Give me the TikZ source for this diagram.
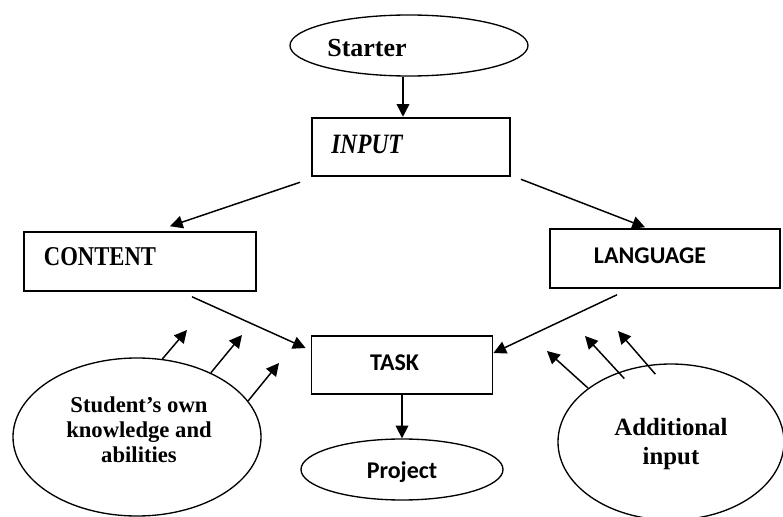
\documentclass[tikz,border=0pt]{standalone}
\usepackage{fontspec}
\setmainfont{Liberation Serif}
\newfontfamily\calib{Carlito}
\usetikzlibrary{arrows.meta,shapes.geometric}
\tikzset{>={Triangle[length=9.5pt,width=9.5pt]}}

\begin{document}
\begin{tikzpicture}[x=0.75pt,y=-0.75pt,
  box/.style = {draw, line width=1.4pt, rectangle, minimum height=44pt},
  oval/.style = {draw, line width=1pt, ellipse, inner sep=0pt},
  arr/.style = {->, line width=1.1pt},
  serifb/.style = {font=\fontsize{#1}{#1}\selectfont\bfseries},
  sansb/.style = {font=\fontsize{#1}{#1}\selectfont\calib\bfseries}]
\useasboundingbox (0,0) rectangle (783,517);
    % top: starter and input
    \node[oval, minimum width=178.5pt, minimum height=45.75pt,
      label={[serifb=19.5, xshift=-31.5pt, yshift=-2pt]center:Starter}] (starter) at (409,45.5) {};
    \node[box, minimum width=148.5pt,
      label={[serifb=17.5, xshift=-33pt, yshift=2.25pt]center:\scalebox{1}[1.2]{\itshape INPUT}}] (input) at (411,147) {};
    % middle row
    \node[box, minimum width=174pt,
      label={[serifb=17, xshift=-30pt, yshift=3.4pt]center:\scalebox{1}[1.2]{CONTENT}}] (content) at (140,261.5) {};
    \node[box, minimum width=172.5pt,
      label={[sansb=18, xshift=-11.25pt, yshift=1.9pt]center:LANGUAGE}] (language) at (665,258.5) {};
    \node[box, minimum width=135.75pt, minimum height=43.5pt,
      label={[sansb=18, xshift=-5.6pt, yshift=1.5pt]center:TASK}] (task) at (402,365) {};
    % bottom ovals
    \node[oval, minimum width=151.5pt, minimum height=45.75pt,
      label={[sansb=18, yshift=-1.9pt]center:Project}] (project) at (402,469.5) {};
    \node[oval, minimum width=186pt, minimum height=118.5pt,
      label={[font=\fontsize{17}{18.75}\selectfont\bfseries, align=center, xshift=1.5pt, yshift=5.25pt]center:{Student's own\\knowledge and\\abilities}}] (student) at (137,437) {};
    \node[oval, minimum width=169.5pt, minimum height=117pt,
      label={[font=\fontsize{18.6}{21.75}\selectfont\bfseries, align=center, yshift=-1.5pt]center:{Additional\\input}}] (additional) at (671,442) {};
    % free ends of the input arrows
    \coordinate (s1) at (187,330);
    \coordinate (s2) at (242,335);
    \coordinate (s3) at (279,363);
    \coordinate (a1) at (547,351);
    \coordinate (a2) at (585,336);
    \coordinate (a3) at (618,331);
    % connectors
    \draw[arr] ([xshift=-4.5pt]starter.south) -- ([xshift=-6pt]input.north);
    \draw[arr] ([xshift=-8.25pt,yshift=-3.75pt]input.south west) -- ([xshift=22.5pt,yshift=3.75pt]content.north);
    \draw[arr] ([xshift=7.5pt,yshift=-1.5pt]input.south east) -- ([xshift=-15pt,yshift=0.75pt]language.north);
    \draw[arr] ([xshift=39pt,yshift=-3.75pt]content.south) -- ([xshift=-3.75pt,yshift=12.75pt]task.west);
    \draw[arr] ([xshift=-36pt,yshift=-4.5pt]language.south) -- ([yshift=9pt]task.east);
    \draw[arr] (task.south) -- (project.north);
    \draw[arr] (student.72.9) -- (s1);
    \draw[arr] (student.41.6) -- (s2);
    \draw[arr] (student.18.6) -- (s3);
    \draw[arr] (additional.147) -- (a1);
    \draw[arr, shorten <=-6.5pt] (additional.127.7) -- (a2);
    \draw[arr, shorten <=-9pt] (additional.107.3) -- (a3);
\end{tikzpicture}
\end{document}
